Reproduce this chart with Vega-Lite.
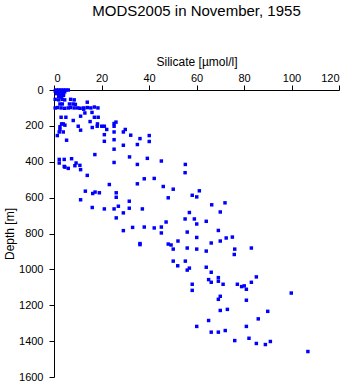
{
  "$schema": "https://vega.github.io/schema/vega-lite/v6.json",
  "width": 285,
  "height": 287,
  "autosize": "none",
  "padding": {"left": 54, "top": 90, "right": 12, "bottom": 7},
  "background": "white",
  "title": {"text": "MODS2005 in November, 1955", "font": "Liberation Sans", "fontSize": 15, "fontWeight": "normal", "anchor": "middle", "offset": 36, "color": "black"},
  "config": {
    "view": {"stroke": null},
    "axis": {"grid": false, "domainColor": "black", "tickColor": "black", "labelColor": "black", "titleColor": "black", "labelFont": "Liberation Sans", "titleFont": "Liberation Sans", "labelFontSize": 11, "titleFontSize": 12, "titleFontWeight": "normal", "tickSize": 5}
  },
  "data": {"values": [
    {"s":1,"d":0},{"s":2,"d":0},{"s":3,"d":0},{"s":4,"d":0},{"s":5,"d":0},{"s":6,"d":0},{"s":0.5,"d":5},{"s":1.5,"d":10},{"s":2.5,"d":10},{"s":3.5,"d":10},{"s":4.5,"d":10},{"s":1,"d":20},{"s":2,"d":20},{"s":3,"d":20},{"s":4,"d":20},{"s":2,"d":25},{"s":3,"d":30},{"s":4,"d":30},{"s":2,"d":35},{"s":3,"d":40},
    {"s":0.5,"d":52},{"s":2,"d":55},{"s":3.5,"d":52},{"s":4.5,"d":55},{"s":7,"d":52},{"s":8.5,"d":55},{"s":14,"d":68},
    {"s":2.5,"d":78},{"s":3.5,"d":78},{"s":6.5,"d":78},{"s":8,"d":78},{"s":9,"d":80},
    {"s":0.5,"d":100},{"s":1.5,"d":98},{"s":3,"d":100},{"s":4.5,"d":102},{"s":6,"d":100},{"s":7,"d":98},{"s":8.5,"d":100},{"s":10,"d":100},{"s":11,"d":102},{"s":12.5,"d":100},{"s":14,"d":98},{"s":15.5,"d":100},{"s":17,"d":95},{"s":18.5,"d":100},{"s":12.5,"d":107},
    {"s":13,"d":128},{"s":16,"d":125},
    {"s":3,"d":152},{"s":5,"d":152},{"s":11.2,"d":146},{"s":17,"d":152},{"s":18.6,"d":152},
    {"s":8.1,"d":170},{"s":15.2,"d":176},{"s":26.1,"d":179},
    {"s":3.2,"d":189},{"s":3.9,"d":189},{"s":18.3,"d":189},{"s":25.3,"d":187},{"s":4.6,"d":196},
    {"s":20.1,"d":202},{"s":21.2,"d":202},{"s":25.3,"d":202},{"s":18.2,"d":202},{"s":10.2,"d":202},{"s":2.5,"d":205},
    {"s":16.1,"d":209},{"s":22.2,"d":220},{"s":30,"d":220},{"s":2.5,"d":220},{"s":11.2,"d":224},
    {"s":2.2,"d":234},{"s":3.9,"d":234},{"s":25.3,"d":234},{"s":29.2,"d":234},
    {"s":1.4,"d":254},{"s":21.2,"d":249},{"s":32.3,"d":252},{"s":40.1,"d":254},
    {"s":36.2,"d":271},{"s":25.3,"d":277},{"s":5.3,"d":280},{"s":21.2,"d":286},{"s":40.1,"d":287},
    {"s":35.1,"d":304},{"s":29.2,"d":308},{"s":25.3,"d":330},{"s":17.2,"d":360},
    {"s":31.8,"d":373},{"s":39.3,"d":381},
    {"s":2.2,"d":387},{"s":4.3,"d":387},{"s":7.4,"d":383},{"s":45.2,"d":396},
    {"s":25.3,"d":404},{"s":2.2,"d":407},{"s":9.3,"d":407},
    {"s":35.1,"d":415},{"s":55.3,"d":415},
    {"s":8.8,"d":422},{"s":10.9,"d":420},{"s":4.3,"d":426},{"s":4.6,"d":430},
    {"s":6,"d":437},{"s":11.2,"d":444},
    {"s":55.2,"d":461},{"s":14,"d":476},
    {"s":38,"d":495},{"s":42.2,"d":493},
    {"s":35.1,"d":523},{"s":23.3,"d":527},
    {"s":46,"d":538},{"s":50.2,"d":553},{"s":61.2,"d":562},{"s":13.2,"d":564},
    {"s":17.3,"d":569},{"s":16.3,"d":577},{"s":19.1,"d":573},{"s":26.2,"d":573},
    {"s":58.2,"d":587},{"s":60.1,"d":596},{"s":26.2,"d":598},{"s":48.1,"d":601},
    {"s":11.2,"d":612},{"s":31.7,"d":620},{"s":72,"d":629},{"s":66.4,"d":640},
    {"s":27.1,"d":648},{"s":16.1,"d":655},{"s":31.7,"d":659},{"s":21.2,"d":663},{"s":25.3,"d":663},{"s":37.2,"d":663},
    {"s":70,"d":680},{"s":57,"d":683},{"s":29.2,"d":685},
    {"s":26.2,"d":713},{"s":59.1,"d":719},{"s":55.2,"d":719},
    {"s":64.1,"d":732},{"s":47.2,"d":736},{"s":60.1,"d":747},
    {"s":33.1,"d":766},{"s":38,"d":764},{"s":42.2,"d":769},{"s":45.2,"d":764},
    {"s":69.2,"d":783},{"s":29.2,"d":784},{"s":56.1,"d":792},{"s":45.2,"d":797},
    {"s":75.1,"d":820},{"s":60.1,"d":822},{"s":72.5,"d":825},
    {"s":52.2,"d":842},{"s":70,"d":842},{"s":66.2,"d":853},
    {"s":36.2,"d":856},{"s":36.2,"d":862},{"s":48.1,"d":859},{"s":49.3,"d":864},
    {"s":56.1,"d":881},{"s":83.1,"d":881},{"s":50.2,"d":887},{"s":60.1,"d":887},{"s":76.1,"d":887},{"s":64.1,"d":898},
    {"s":75.9,"d":917},
    {"s":50.2,"d":954},{"s":55.3,"d":954},
    {"s":52.1,"d":980},{"s":64.1,"d":988},{"s":57,"d":993},{"s":56.1,"d":1004},{"s":66.2,"d":1016},
    {"s":85.2,"d":1042},{"s":69.2,"d":1046},{"s":65.1,"d":1057},{"s":69.2,"d":1066},{"s":66.2,"d":1072},{"s":83.1,"d":1072},
    {"s":58.2,"d":1083},{"s":71.2,"d":1083},{"s":77.2,"d":1083},{"s":80.1,"d":1092},{"s":79,"d":1096},{"s":81,"d":1111},
    {"s":58.2,"d":1117},{"s":99.9,"d":1132},{"s":70,"d":1150},{"s":69.2,"d":1167},{"s":81,"d":1172},
    {"s":73,"d":1223},{"s":70,"d":1229},{"s":90,"d":1234},{"s":86,"d":1276},{"s":65.1,"d":1285},
    {"s":60.1,"d":1318},{"s":81,"d":1318},{"s":72.1,"d":1341},{"s":66.2,"d":1350},{"s":69.2,"d":1350},
    {"s":82.1,"d":1384},{"s":76.1,"d":1397},{"s":91.1,"d":1402},{"s":85.2,"d":1413},{"s":89,"d":1419},
    {"s":106.9,"d":1458}
  ]},
  "mark": {"type": "square", "size": 12, "color": "#0000ff", "opacity": 1, "filled": true},
  "encoding": {
    "x": {"field": "s", "type": "quantitative", "scale": {"domain": [0, 120], "nice": false, "zero": false}, "axis": {"orient": "top", "title": "Silicate [µmol/l]", "values": [0, 20, 40, 60, 80, 100, 120], "format": "d", "labelPadding": 2, "titlePadding": 4}},
    "y": {"field": "d", "type": "quantitative", "scale": {"domain": [0, 1600], "reverse": true, "nice": false}, "axis": {"title": "Depth [m]", "values": [0, 200, 400, 600, 800, 1000, 1200, 1400, 1600], "format": "d", "labelPadding": 6, "titlePadding": 2}}
  }
}
